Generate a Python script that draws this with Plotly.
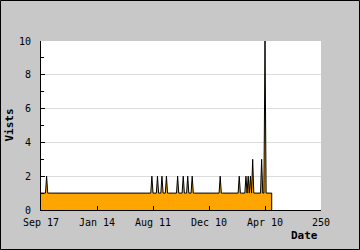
import plotly.graph_objects as go

# Day index (0 = Sep 17) and daily visits
days = list(range(0, 207))
visits = [
    1, 1, 1, 1, 1, 2, 1, 1, 1, 1, 1, 1, 1, 1, 1, 1, 1, 1, 1, 1,
    1, 1, 1, 1, 1, 1, 1, 1, 1, 1, 1, 1, 1, 1, 1, 1, 1, 1, 1, 1,
    1, 1, 1, 1, 1, 1, 1, 1, 1, 1, 1, 1, 1, 1, 1, 1, 1, 1, 1, 1,
    1, 1, 1, 1, 1, 1, 1, 1, 1, 1, 1, 1, 1, 1, 1, 1, 1, 1, 1, 1,
    1, 1, 1, 1, 1, 1, 1, 1, 1, 1, 1, 1, 1, 1, 1, 1, 1, 1, 1, 2,
    1, 1, 1, 1, 2, 1, 1, 1, 2, 1, 1, 1, 2, 1, 1, 1, 1, 1, 1, 1,
    1, 1, 2, 1, 1, 1, 1, 2, 1, 1, 1, 2, 1, 1, 1, 2, 1, 1, 1, 1,
    1, 1, 1, 1, 1, 1, 1, 1, 1, 1, 1, 1, 1, 1, 1, 1, 1, 1, 1, 1,
    2, 1, 1, 1, 1, 1, 1, 1, 1, 1, 1, 1, 1, 1, 1, 1, 1, 2, 1, 1,
    1, 1, 1, 2, 1, 2, 1, 2, 1, 3, 1, 1, 1, 1, 1, 1, 1, 3, 1, 1,
    10, 1, 1, 1, 1, 1, 1,
]

tick_vals = [0, 50, 100, 150, 200, 250]
tick_text = ["Sep 17", "Jan 14", "Aug 11", "Dec 10", "Apr 10", "250"]
y_ticks = [0, 2, 4, 6, 8, 10]

# close the area outline at the last day
x_line = days + [days[-1]]
y_line = visits + [0]

FONT = "DejaVu Sans Mono"
W, H = 360, 250
L, R, T, B = 41, 39, 41, 40
PW, PH = W - L - R, H - T - B

fig = go.Figure()
fig.add_trace(go.Scatter(
    x=x_line, y=y_line, mode="lines", fill="tozeroy",
    fillcolor="#ffa500", line=dict(color="#000000", width=1),
    hoverinfo="skip", showlegend=False,
))

fig.update_layout(
    width=W, height=H,
    margin=dict(l=L, r=R, t=T, b=B, pad=0),
    paper_bgcolor="#c8c8c8", plot_bgcolor="#ffffff",
    font=dict(family=FONT, size=10, color="#000000"),
    xaxis=dict(
        range=[0, 250], tickvals=tick_vals, ticktext=tick_text,
        showgrid=False, zeroline=False, showline=True, linecolor="#000000", linewidth=1,
        ticks="inside", ticklen=4, tickcolor="#000000", tickwidth=1,
        ticklabelstandoff=3,
        tickfont=dict(family=FONT, size=10),
    ),
    yaxis=dict(
        range=[0, 10], tickvals=y_ticks,
        showgrid=True, gridcolor="#dcdcdc", gridwidth=1,
        zeroline=False, showline=True, linecolor="#000000", linewidth=1,
        ticks="inside", ticklen=4, tickcolor="#000000", tickwidth=1,
        ticklabelstandoff=7,
        tickfont=dict(family=FONT, size=10),
        minor=dict(dtick=1, ticks="inside", ticklen=3, tickcolor="#000000", showgrid=False),
    ),
    annotations=[
        dict(text="<b>Vists</b>", textangle=-90, xref="paper", yref="paper",
             x=(9 - L) / PW, y=0.5, xanchor="center", yanchor="middle",
             showarrow=False, font=dict(family=FONT, size=11)),
        dict(text="<b>Date</b>", xref="paper", yref="paper",
             x=(320 - L) / PW, y=-(236 - (T + PH)) / PH, xanchor="right", yanchor="middle",
             showarrow=False, font=dict(family=FONT, size=11)),
    ],
    shapes=[
        dict(type="rect", xref="paper", yref="paper",
             x0=(0.5 - L) / PW, x1=(W - 0.5 - L) / PW,
             y0=-(H - 0.5 - (T + PH)) / PH, y1=1 + (T - 0.5) / PH,
             line=dict(color="#000000", width=1), fillcolor="rgba(0,0,0,0)", layer="above"),
    ],
)

fig.write_html("out.html")
